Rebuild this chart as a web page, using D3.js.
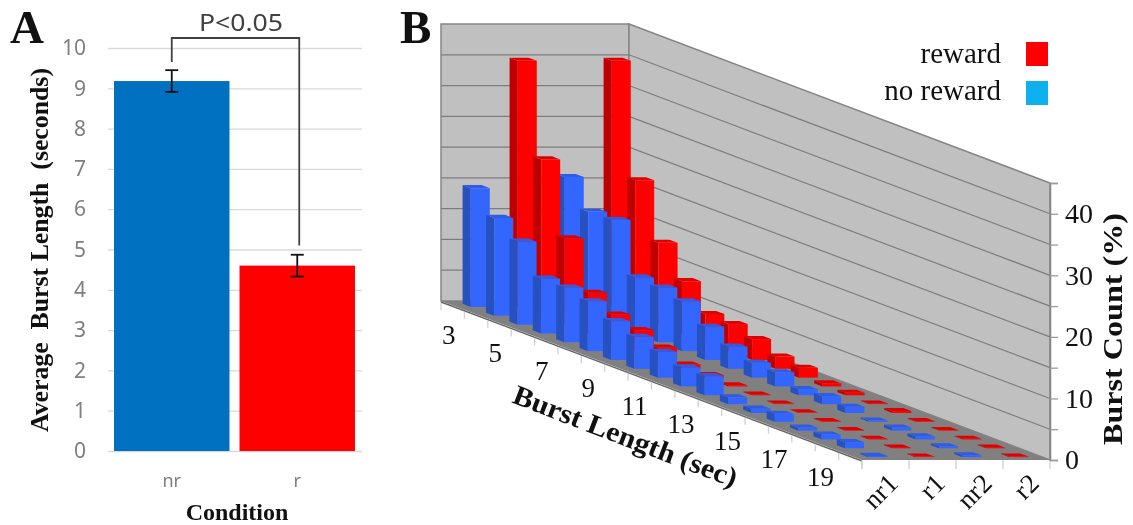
<!DOCTYPE html>
<html>
<head>
<meta charset="utf-8">
<script src="https://cdn.jsdelivr.net/npm/d3@7"></script>
<style>
  html, body { margin: 0; background: #fff; }
  svg { display: block; filter: blur(0.6px); }
</style>
</head>
<body>
<svg></svg>
<script>
var w = 1133;
var h = 525;

// panel A
var conditions = ["nr", "r"];
var meanBurst = [9.18, 4.6];
var burstError = [0.27, 0.27];
var meanTicks = [0, 1, 2, 3, 4, 5, 6, 7, 8, 9, 10];

// panel B
var burstLengths = [3, 4, 5, 6, 7, 8, 9, 10, 11, 12, 13, 14, 15, 16, 17, 18, 19, 20];
var burstLabels = [3, 5, 7, 9, 11, 13, 15, 17, 19];
var seriesNames = ["nr1", "r1", "nr2", "r2"];
var nr1 = [19.3, 15.9, 13.5, 8.9, 8.9, 8.1, 6.3, 5.2, 4.2, 3.1, 3.1, 1.1, 0.7, 1.3, 0.5, 0.8, 1.0, 0.2];
var r1 = [40, 25.4, 14, 6.6, 4.5, 3.4, 2, 0.7, 0.4, 0.2, 0.1, 0.1, 0.1, 0.1, 0.1, 0.1, 0.1, 0.1];
var nr2 = [21.1, 16.9, 17, 9.1, 8.9, 8.1, 5.4, 3.6, 2.4, 2.3, 1, 1.3, 1, 0.2, 0.5, 0.5, 0.3, 0.3];
var r2 = [40, 22, 13.3, 8.5, 4.6, 4.4, 3.4, 2, 1.6, 0.5, 0.4, 0.1, 0.3, 0.1, 0.1, 0.1, 0.1, 0.1];
var seriesValues = [nr1, r1, nr2, r2];
var countTicks = [0, 5, 10, 15, 20, 25, 30, 35, 40, 45];
var wallGrid = [5, 10, 15, 20, 25, 30, 35, 40];
var legendText = ["reward", "no reward"];
var legendColors = ["#ff0000", "#0fb0f0"];

var serif = "'Liberation Serif', serif";
var sans = "'Noto Sans', sans-serif";

var svg = d3.select("svg").attr("width", w).attr("height", h);

/* ---------- panel A ---------- */
var yA = d3.scaleLinear().domain([0, 10]).range([451, 48]);
var xA = d3.scaleBand().domain(conditions).range([109, 360]).paddingInner(0.08).paddingOuter(0.04);

var gridA = svg
  .append("g")
  .attr("transform", "translate(108,0)")
  .call(d3.axisLeft(yA).tickValues(meanTicks).tickSize(-254).tickPadding(22));
gridA.select(".domain").remove();
gridA.selectAll("line").attr("stroke", "#d9d9d9").attr("stroke-width", 1.3);
gridA.selectAll("text").attr("fill", "#7f7f7f").style("font", "21px " + sans);

var xAxisA = svg
  .append("g")
  .attr("transform", "translate(0,451)")
  .call(d3.axisBottom(xA).tickSize(0).tickPadding(23));
xAxisA.select(".domain").remove();
xAxisA.selectAll("text").attr("fill", "#7f7f7f").style("font", "18px " + sans);

svg
  .selectAll("rect.bar")
  .data(conditions)
  .enter()
  .append("rect")
  .attr("class", "bar")
  .attr("x", (d) => xA(d))
  .attr("width", xA.bandwidth())
  .attr("y", (d, i) => yA(meanBurst[i]))
  .attr("height", (d, i) => yA(0) - yA(meanBurst[i]))
  .style("fill", (d, i) => ["#0070c0", "#ff0000"][i]);

var errs = svg
  .selectAll("g.err")
  .data(conditions)
  .enter()
  .append("g")
  .attr("class", "err")
  .attr("stroke", "#111")
  .attr("stroke-width", 1.8);
var midA = (d) => xA(d) + xA.bandwidth() / 2;
errs
  .append("line")
  .attr("x1", midA)
  .attr("x2", midA)
  .attr("y1", (d, i) => yA(meanBurst[i] + burstError[i]))
  .attr("y2", (d, i) => yA(meanBurst[i] - burstError[i]));
[1, -1].forEach((sign) => {
  errs
    .append("line")
    .attr("x1", (d) => midA(d) - 6.5)
    .attr("x2", (d) => midA(d) + 6.5)
    .attr("y1", (d, i) => yA(meanBurst[i] + sign * burstError[i]))
    .attr("y2", (d, i) => yA(meanBurst[i] + sign * burstError[i]));
});

// significance bracket
svg
  .append("path")
  .attr("d", d3.line()([[midA("nr"), yA(9.65)], [midA("nr"), 38], [midA("r") + 2, 38], [midA("r") + 2, yA(5.1)]]))
  .style("fill", "none")
  .style("stroke", "#404040")
  .style("stroke-width", 1.8);
svg
  .append("text")
  .attr("x", 241)
  .attr("y", 31)
  .attr("text-anchor", "middle")
  .attr("textLength", 84)
  .attr("lengthAdjust", "spacingAndGlyphs")
  .attr("fill", "#404040")
  .style("font", "24px " + sans)
  .text("P<0.05");

svg
  .append("text")
  .attr("transform", "translate(48,250) rotate(-90)")
  .attr("text-anchor", "middle")
  .attr("textLength", 364)
  .attr("lengthAdjust", "spacingAndGlyphs")
  .attr("fill", "#111")
  .style("font", "bold 26px " + serif)
  .style("white-space", "pre")
  .text("Average  Burst Length  (seconds)");
svg
  .append("text")
  .attr("x", 237)
  .attr("y", 520)
  .attr("text-anchor", "middle")
  .attr("fill", "#111")
  .style("font", "bold 24px " + serif)
  .text("Condition");

/* ---------- panel B ---------- */
var crossB = d3.scaleBand().domain(seriesNames).range([0, 188]);
var depthX = d3.scaleLinear().domain([0, 18]).range([441, 862]);
var depthY = d3.scaleLinear().domain([0, 18]).range([301, 460]);
var heightB = d3.scaleLinear().domain([0, 45]).range([0, 277]);

// project a spot on the floor (across, depth) at a height value
var pt = (across, depth, v) => [depthX(depth) + across, depthY(depth) - heightB(v)];
var poly = (pts) => pts.map((p) => p.join(",")).join(" ");

var wallColor = "#c0c0c0";
var lineColor = "#858585";
svg
  .append("polygon")
  .attr("points", poly([pt(0, 0, 45), pt(188, 0, 45), pt(188, 0, 0), pt(0, 0, 0)]))
  .style("fill", wallColor)
  .style("stroke", lineColor)
  .style("stroke-width", 1.5);
svg
  .append("polygon")
  .attr("points", poly([pt(188, 0, 45), pt(188, 18, 45), pt(188, 18, 0), pt(188, 0, 0)]))
  .style("fill", wallColor)
  .style("stroke", lineColor)
  .style("stroke-width", 1.5);
svg
  .append("polygon")
  .attr("points", poly([pt(0, 0, 0), pt(188, 0, 0), pt(188, 18, 0), pt(0, 18, 0)]))
  .style("fill", "#808080");

svg
  .selectAll("polyline.grid")
  .data(wallGrid)
  .enter()
  .append("polyline")
  .attr("class", "grid")
  .attr("points", (d) => poly([pt(0, 0, d), pt(188, 0, d), pt(188, 18, d)]))
  .style("fill", "none")
  .style("stroke", "#7d7d7d")
  .style("stroke-width", 1.2);

// floor front edge and its ticks
svg
  .append("line")
  .attr("x1", depthX(0))
  .attr("y1", depthY(0) + 1)
  .attr("x2", depthX(18))
  .attr("y2", depthY(18) + 1)
  .style("stroke", "#666")
  .style("stroke-width", 1.5);
svg
  .selectAll("line.dtick")
  .data(d3.range(19))
  .enter()
  .append("line")
  .attr("class", "dtick")
  .attr("x1", (d) => depthX(d))
  .attr("x2", (d) => depthX(d))
  .attr("y1", (d) => depthY(d) + 2)
  .attr("y2", (d) => depthY(d) + 9)
  .style("stroke", "#d0d0d0")
  .style("stroke-width", 1.3);
svg
  .selectAll("line.stick")
  .data(d3.range(5))
  .enter()
  .append("line")
  .attr("class", "stick")
  .attr("x1", (d) => depthX(18) + d * crossB.step())
  .attr("x2", (d) => depthX(18) + d * crossB.step())
  .attr("y1", depthY(18))
  .attr("y2", depthY(18) + 9)
  .style("stroke", "#d0d0d0")
  .style("stroke-width", 1.3);

// 3d bars, back row first
var barWidth = 19;
var barDepth = 0.35;
var barColors = [
  { front: "#3366ff", side: "#2750c0", top: "#2d5ce6" },
  { front: "#ff0000", side: "#c00000", top: "#e00000" },
];
var cells = burstLengths.flatMap((b, i) =>
  seriesNames.map((s, j) => ({
    i: i,
    s: s,
    value: seriesValues[j][i],
    colors: barColors[j % 2],
  }))
);
var box = svg
  .selectAll("g.box")
  .data(cells)
  .enter()
  .append("g")
  .attr("class", "box");
var left = (d) => crossB(d.s) + (crossB.bandwidth() - barWidth) / 2;
var back = (d) => d.i + 0.5 - barDepth / 2;
var front = (d) => d.i + 0.5 + barDepth / 2;
box
  .append("polygon")
  .attr("points", (d) =>
    poly([pt(left(d), back(d), 0), pt(left(d), front(d), 0), pt(left(d), front(d), d.value), pt(left(d), back(d), d.value)])
  )
  .style("fill", (d) => d.colors.side);
box
  .append("polygon")
  .attr("points", (d) =>
    poly([pt(left(d), back(d), d.value), pt(left(d) + barWidth, back(d), d.value), pt(left(d) + barWidth, front(d), d.value), pt(left(d), front(d), d.value)])
  )
  .style("fill", (d) => d.colors.top);
box
  .append("polygon")
  .attr("points", (d) =>
    poly([pt(left(d), front(d), 0), pt(left(d) + barWidth, front(d), 0), pt(left(d) + barWidth, front(d), d.value), pt(left(d), front(d), d.value)])
  )
  .style("fill", (d) => d.colors.front);

// count axis on the right
var yB = d3.scaleLinear().domain([0, 45]).range([460, 183]);
var axisB = svg
  .append("g")
  .attr("transform", "translate(1050,0)")
  .call(
    d3
      .axisRight(yB)
      .tickValues(countTicks)
      .tickSize(8)
      .tickPadding(7)
      .tickFormat((d) => (d % 10 === 0 ? d : ""))
  );
axisB.select(".domain").attr("stroke", lineColor).attr("stroke-width", 1.5);
axisB.selectAll("line").attr("stroke", "#9a9a9a").attr("stroke-width", 1.3);
axisB.selectAll("text").attr("fill", "#111").style("font", "28px " + serif);

svg
  .selectAll("text.depth")
  .data(burstLabels)
  .enter()
  .append("text")
  .attr("class", "depth")
  .attr("x", (d) => depthX(burstLengths.indexOf(d) + 0.5) - 4 - burstLengths.indexOf(d) * 0.15)
  .attr("y", (d) => depthY(burstLengths.indexOf(d) + 0.5) + 39)
  .attr("text-anchor", "middle")
  .attr("fill", "#111")
  .style("font", "27px " + serif)
  .text((d) => d);

svg
  .selectAll("text.cross")
  .data(seriesNames)
  .enter()
  .append("text")
  .attr("class", "cross")
  .attr("transform", (d) => "translate(" + (depthX(18) + crossB(d) + crossB.bandwidth() / 2 + 14) + ",485) rotate(-45)")
  .attr("text-anchor", "end")
  .attr("fill", "#111")
  .style("font", "27px " + serif)
  .text((d) => d);

svg
  .append("text")
  .attr("transform", "translate(622,445) rotate(21)")
  .attr("text-anchor", "middle")
  .attr("textLength", 238)
  .attr("lengthAdjust", "spacingAndGlyphs")
  .attr("fill", "#111")
  .style("font", "bold 28px " + serif)
  .text("Burst Length (sec)");
svg
  .append("text")
  .attr("transform", "translate(1122,329) rotate(-90)")
  .attr("text-anchor", "middle")
  .attr("textLength", 232)
  .attr("lengthAdjust", "spacingAndGlyphs")
  .attr("fill", "#111")
  .style("font", "bold 28px " + serif)
  .text("Burst Count (%)");

// legend
svg
  .selectAll("rect.legend")
  .data(legendText)
  .enter()
  .append("rect")
  .attr("class", "legend")
  .attr("x", 1026)
  .attr("y", (d, i) => 42 + i * 39)
  .attr("width", 22)
  .attr("height", 24)
  .style("fill", (d, i) => legendColors[i]);
svg
  .selectAll("text.legend")
  .data(legendText)
  .enter()
  .append("text")
  .attr("class", "legend")
  .attr("x", 1001)
  .attr("y", (d, i) => 63 + i * 37)
  .attr("text-anchor", "end")
  .attr("fill", "#111")
  .style("font", "29px " + serif)
  .text((d) => d);

// panel letters
svg
  .selectAll("text.panel")
  .data(["A", "B"])
  .enter()
  .append("text")
  .attr("class", "panel")
  .attr("x", (d, i) => [10, 400][i])
  .attr("y", 43)
  .attr("fill", "#111")
  .style("font", "bold 47px " + serif)
  .text((d) => d);
</script>
</body>
</html>
